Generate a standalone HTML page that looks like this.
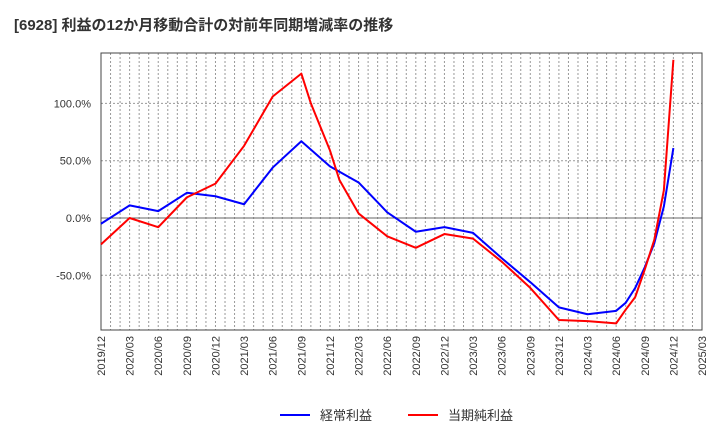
<!DOCTYPE html>
<html><head><meta charset="utf-8"><style>
body{margin:0;background:#fff;font-family:"Liberation Sans","Noto Sans CJK JP",sans-serif;}
</style></head><body>
<svg width="720" height="440" xmlns="http://www.w3.org/2000/svg" font-family="Liberation Sans, Noto Sans CJK JP, sans-serif">
<text x="14" y="30" font-size="15" font-weight="bold" fill="#333">[6928]  利益の12か月移動合計の対前年同期増減率の推移</text>
<g id="grid"></g>
<g id="axes"></g>
<g id="series"></g>
<g>
<line x1="280" y1="415" x2="310" y2="415" stroke="#0000ff" stroke-width="2"/>
<text x="320" y="420" font-size="13" fill="#333">経常利益</text>
<line x1="408" y1="415" x2="438" y2="415" stroke="#ff0000" stroke-width="2"/>
<text x="448" y="420" font-size="13" fill="#333">当期純利益</text>
</g>
</svg>
<script>
const tickLabels=["2019/12","2020/03","2020/06","2020/09","2020/12","2021/03","2021/06","2021/09","2021/12","2022/03","2022/06","2022/09","2022/12","2023/03","2023/06","2023/09","2023/12","2024/03","2024/06","2024/09","2024/12","2025/03"];
const yTicks=[100,50,0,-50];
const yTickLabels=["100.0%","50.0%","0.0%","-50.0%"];
const blueMonths=[0,3,6,9,12,15,18,21,24,27,30,33,36,39,42,45,48,51,54,55,56,57,58,59,60];
const blueValues=[-5,11,6,22,19,12,44,67,45,31,5,-12,-8,-13,-35,-56,-78,-84,-81,-74,-61,-43,-22,10,61];
const redMonths=[0,3,6,9,12,15,18,21,22,24,25,27,30,33,36,39,42,45,48,51,54,55,56,57,58,59,60];
const redValues=[-23,0,-8,18,30,63,106,126,100,59,33,4,-16,-26,-14,-18,-38,-61,-89,-90,-92,-80,-69,-45,-19,24,138];
const X0=101,X1=702,Y0=53,Y1=330,NM=63;
const xs=m=>X0+m*(X1-X0)/NM;
const ys=v=>218-v*(57.3/50);
const NS="http://www.w3.org/2000/svg";
function mk(t,a,p){const e=document.createElementNS(NS,t);for(const k in a)e.setAttribute(k,a[k]);p.appendChild(e);return e;}
const grid=document.getElementById('grid'),axes=document.getElementById('axes'),series=document.getElementById('series');
for(let m=1;m<NM;m++){const l=mk('line',{x1:xs(m),x2:xs(m),y1:Y0,y2:Y1,stroke:'#999','stroke-width':1,'stroke-dasharray':'2,2'},grid);

}
yTicks.forEach((v,i)=>{const y=ys(v);
const l=mk('line',{x1:X0,x2:X1,y1:y,y2:y,stroke:v===0?'#666':'#999','stroke-width':1,'stroke-dasharray':v===0?'':'2,2'},grid);


const t=mk('text',{x:91,y:y+4,'text-anchor':'end','font-size':11,fill:'#333'},axes);t.textContent=yTickLabels[i];

});
const fr=mk('rect',{x:X0,y:Y0,width:X1-X0,height:Y1-Y0,fill:'none',stroke:'#444','stroke-width':1},axes);


tickLabels.forEach((s,i)=>{const x=xs(i*3);
const t=mk('text',{x:0,y:0,'text-anchor':'end','font-size':11,fill:'#333',transform:`translate(${x+4},${Y1+6}) rotate(-90)`},axes);t.textContent=s;

});
function line(ms,vs,c,n){const p=mk('polyline',{points:ms.map((m,i)=>xs(m)+','+ys(vs[i])).join(' '),fill:'none',stroke:c,'stroke-width':2,'stroke-linejoin':'round'},series);

}
line(blueMonths,blueValues,'#0000ff','ordinary-profit-line');
line(redMonths,redValues,'#ff0000','net-profit-line');
</script>
</body></html>
